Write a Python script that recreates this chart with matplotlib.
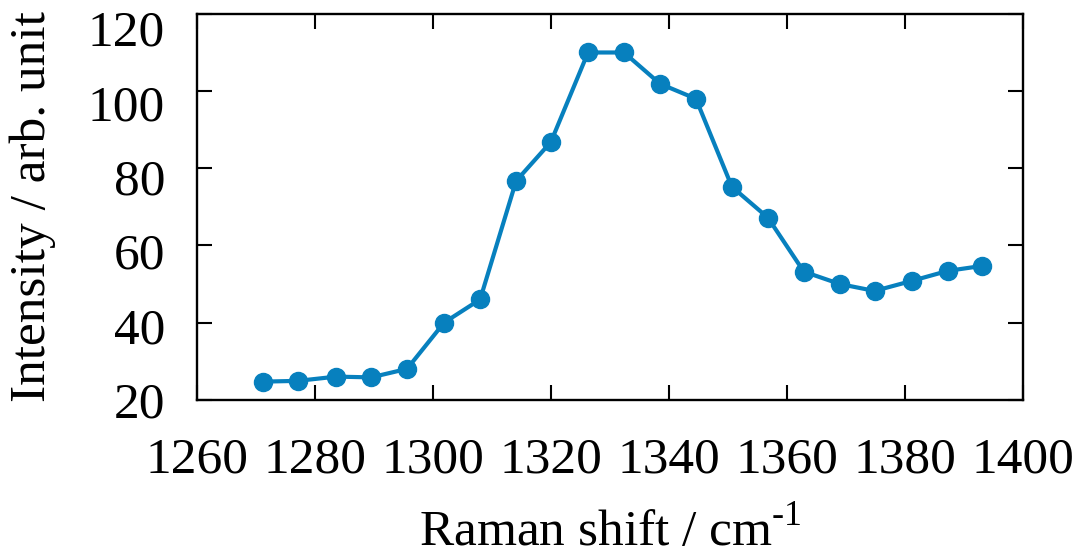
import matplotlib
matplotlib.use("Agg")
import matplotlib.pyplot as plt
from matplotlib.transforms import ScaledTranslation

# Raman spectrum points
shift = [1271.2, 1277.1, 1283.6, 1289.5, 1295.6, 1301.9, 1308.0, 1314.1,
         1320.0, 1326.3, 1332.4, 1338.5, 1344.6, 1350.7, 1356.8, 1362.9,
         1369.0, 1374.9, 1381.2, 1387.3, 1393.2]
intensity = [24.7, 24.9, 26.0, 25.8, 28.0, 40.0, 46.0, 76.7,
             86.8, 110.0, 110.0, 101.9, 98.0, 75.2, 67.2, 53.2,
             50.0, 48.2, 50.8, 53.4, 54.7]

xticks = [1260, 1280, 1300, 1320, 1340, 1360, 1380, 1400]
yticks = [20, 40, 60, 80, 100, 120]

plt.rcParams['font.family'] = ['Liberation Serif', 'DejaVu Serif']
plt.rcParams['mathtext.fontset'] = 'custom'
plt.rcParams['mathtext.rm'] = 'Liberation Serif'

fig = plt.figure(figsize=(10.89, 5.56), dpi=100)
ax = fig.add_axes([0.181, 0.281, 0.758, 0.694])

ax.plot(shift, intensity, '-o', color='#0780be', lw=3, ms=13)

ax.set_xlim(1260, 1400)
ax.set_ylim(20, 120)
ax.set_xticks(xticks)
ax.set_yticks(yticks)
ax.tick_params(direction='in', length=11, width=1.5, labelsize=37,
               top=True, right=True)
ax.tick_params(axis='x', pad=27)
ax.tick_params(axis='y', pad=23)
for s in ax.spines.values():
    s.set_linewidth(1.7)

# the reference's y labels creep slightly below their ticks towards the top
for v, lab in zip(yticks, ax.get_yticklabels()):
    dy = -(v - 20) * 0.0014
    lab.set_transform(lab.get_transform() + ScaledTranslation(0, dy, fig.dpi_scale_trans))

ax.set_xlabel('Raman shift / cm$^{\\text{-1}}$', fontsize=37)
ax.set_ylabel('Intensity / arb. unit', fontsize=37)
ax.xaxis.set_label_coords(0.5, -0.28)
ax.yaxis.set_label_coords(-0.171, 0.5)

fig.savefig('out.png', dpi=100)
